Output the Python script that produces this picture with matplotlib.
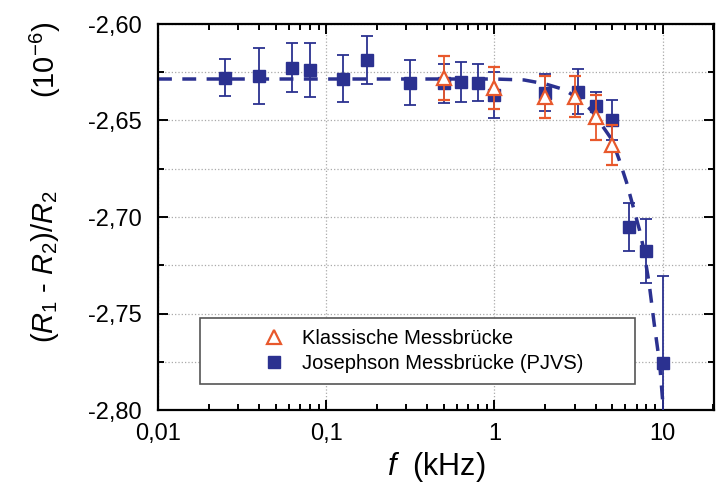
import matplotlib
matplotlib.use("Agg")
import matplotlib.pyplot as plt
from matplotlib.ticker import FixedLocator, FuncFormatter, LogLocator, NullFormatter, MultipleLocator
from matplotlib.lines import Line2D
from matplotlib.patches import Rectangle

plt.rcParams['font.family'] = ['Liberation Sans', 'DejaVu Sans']
plt.rcParams['mathtext.fontset'] = 'custom'
plt.rcParams['mathtext.rm'] = 'Liberation Sans'
plt.rcParams['mathtext.it'] = 'Liberation Sans:italic'

# Josephson Messbrücke (PJVS)
j_f = [0.025, 0.04, 0.063, 0.08, 0.125, 0.175, 0.315, 0.5, 0.63, 0.8, 1.0, 2.0, 3.15, 4.0, 5.0, 6.3, 8.0, 10.0]
j_v = [-2.6278, -2.6268, -2.6226, -2.6238, -2.6283, -2.6187, -2.6304, -2.6307, -2.6299, -2.6304,
       -2.6368, -2.6356, -2.6351, -2.6425, -2.6497, -2.7051, -2.7177, -2.7758]
j_err = [0.0095, 0.0144, 0.0127, 0.0138, 0.012, 0.0125, 0.0115, 0.0100, 0.0104, 0.0097,
         0.012, 0.0095, 0.0117, 0.0075, 0.0105, 0.0123, 0.0166, 0.045]

# Klassische Messbrücke
k_f = [0.5, 1.0, 2.0, 3.0, 4.0, 5.0]
k_v = [-2.6281, -2.633, -2.6377, -2.6377, -2.6483, -2.6627]
k_err = [0.0113, 0.0108, 0.011, 0.0105, 0.0117, 0.0105]

# dashed fit curve
fit_f = [0.01, 1.0, 1.5, 2.0, 2.6, 3.2, 3.8, 4.4, 5.0, 5.5, 6.1, 6.6, 7.3, 7.6, 8.3, 8.9, 9.6, 10.0, 10.15]
fit_v = [-2.6285, -2.6285, -2.629, -2.631, -2.634, -2.639, -2.645, -2.653, -2.660, -2.670,
         -2.682, -2.693, -2.707, -2.714, -2.734, -2.755, -2.776, -2.795, -2.802]

x_ticks = [0.01, 0.1, 1, 10]
x_ticklabels = ['0,01', '0,1', '1', '10']
y_ticks = [-2.80, -2.75, -2.70, -2.65, -2.60]

blue = '#2b3190'
orange = '#e8582c'

fig = plt.figure(figsize=(7.17, 4.90), dpi=100)
ax = fig.add_axes([158/717, 1-410/490, (714-158)/717, (410-24)/490])

ax.plot(fit_f, fit_v, color=blue, lw=2.5, dashes=(4, 3), zorder=2)
ax.errorbar(j_f, j_v, yerr=j_err, fmt='s', color=blue, ms=9, mec=blue, mfc=blue,
            elinewidth=1.3, capsize=4.5, capthick=1.3, zorder=3)
ax.errorbar(k_f, k_v, yerr=k_err, fmt='^', color=orange, ms=10, mec=orange, mfc='white',
            mew=1.6, elinewidth=1.3, capsize=4.5, capthick=1.3, zorder=4)

ax.set_xscale('log')
ax.set_xlim(0.01, 20.2)
ax.set_ylim(-2.80, -2.60)

ax.xaxis.set_major_locator(FixedLocator(x_ticks))
ax.xaxis.set_major_formatter(FuncFormatter(lambda v, p: x_ticklabels[x_ticks.index(v)] if v in x_ticks else ''))
ax.xaxis.set_minor_locator(LogLocator(base=10, subs=range(2, 10)))
ax.xaxis.set_minor_formatter(NullFormatter())
ax.yaxis.set_major_locator(FixedLocator(y_ticks))
ax.yaxis.set_major_formatter(FuncFormatter(lambda v, p: f"{v:.2f}".replace('.', ',')))
ax.yaxis.set_minor_locator(MultipleLocator(0.025))

ax.tick_params(which='both', direction='in', top=True, right=True, width=1.4, labelsize=17)
ax.tick_params(which='major', length=7)
ax.tick_params(which='minor', length=4)
ax.tick_params(axis='x', pad=9)
ax.tick_params(axis='y', pad=12)

for s in ax.spines.values():
    s.set_linewidth(1.6)

ax.set_axisbelow(True)
ax.grid(axis='y', which='both', linestyle=':', color='#aaaaaa', lw=0.9)
ax.grid(axis='x', which='major', linestyle=':', color='#aaaaaa', lw=0.9)

ax.set_xlabel(r'$f$  (kHz)', fontsize=22, labelpad=4)
fig.text(45/717, 1-267/490, r'($R_1$ - $R_2$)/$R_2$', rotation=90, ha='center', va='center', fontsize=21)
fig.text(45/717, 1-60/490, r'(10$^{-6}$)', rotation=90, ha='center', va='center', fontsize=21)

# legend box
ax.add_patch(Rectangle(((200-158)/556, (410-384)/386), (635-200)/556, (384-318)/386,
                       transform=ax.transAxes, facecolor='white', edgecolor='#555555', lw=1.2, zorder=5))
handles = [Line2D([], [], marker='^', ls='none', mec=orange, mfc='white', mew=1.6, ms=10),
           Line2D([], [], marker='s', ls='none', mec=blue, mfc=blue, ms=8)]
leg = ax.legend(handles, ['Klassische Messbrücke', 'Josephson Messbrücke (PJVS)'],
                loc='center left', bbox_to_anchor=((254-158)/556, (410-351)/386),
                frameon=False, fontsize=14.5, handlelength=1.0, handletextpad=0.9,
                borderpad=0, labelspacing=0.3)
leg.set_zorder(6)

fig.savefig('out.png', dpi=100)
